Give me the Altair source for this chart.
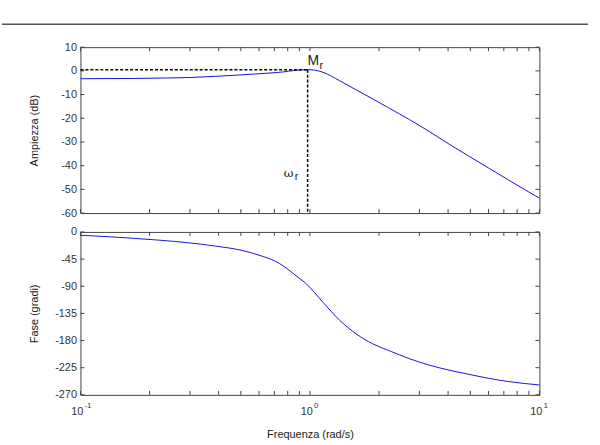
import altair as alt
import pandas as pd

# ---- data ----
mag_w = [0.1, 0.17, 0.24, 0.3, 0.388, 0.48, 0.578, 0.67, 0.755, 0.86, 0.98, 1.05, 1.14,
         1.35, 1.59, 1.94, 2.22, 2.71, 3.3, 4.04, 4.93, 6.01, 7.35, 8.6, 10.0]
mag_db = [-3.3, -3.2, -3.0, -2.8, -2.3, -1.8, -1.3, -0.9, -0.5, 0.2, 0.5, 0.3, -0.6,
          -4.2, -8.0, -12.6, -15.8, -20.5, -25.5, -30.9, -36.0, -41.0, -46.1, -50.0, -53.7]

ph_w = [0.1, 0.134, 0.169, 0.22, 0.288, 0.388, 0.506, 0.617, 0.706, 0.77, 0.834, 0.9, 0.968,
        1.05, 1.14, 1.24, 1.35, 1.47, 1.59, 1.72, 1.88, 2.22, 2.71, 3.31, 4.04, 4.93, 6.01,
        7.35, 10.0]
ph_deg = [-5.5, -8.0, -10.5, -13.6, -17.5, -23.5, -30.6, -40.0, -48.5, -57.0, -67.0, -77.0,
          -86.5, -101.0, -116.7, -132.0, -146.8, -159.0, -169.0, -177.5, -185.5, -197.0,
          -210.0, -220.7, -229.0, -236.0, -242.6, -248.0, -253.6]

x_ticks = [0.1, 0.2, 0.3, 0.4, 0.5, 0.6, 0.7, 0.8, 0.9, 1, 2, 3, 4, 5, 6, 7, 8, 9, 10]
mag_ticks = [10, 0, -10, -20, -30, -40, -50, -60]
ph_ticks = [0, -45, -90, -135, -180, -225, -270]
decades = [0.1, 1, 10]
decade_exp = ["-1", "0", "1"]

w_r = 0.977
M_r = 0.5

# ---- style ----
W, H1, H2 = 462, 167, 164
BLUE = "#1515e0"
FRAME = "#444444"
FONT = "Liberation Sans"
TL = 4  # inward tick length
LBL = "'' + datum.value"

x_scale = alt.Scale(type="log", domain=[0.1, 10], nice=False)
y1_scale = alt.Scale(domain=[-60, 10], nice=False, zero=False)
y2_scale = alt.Scale(domain=[-270, 0], nice=False, zero=False)

y1_axis = alt.Axis(values=mag_ticks, title="Ampiezza (dB)", ticks=False, domain=False,
                   grid=False, labelPadding=4, labelExpr=LBL, titleX=-46, titleY=H1 / 2,
                   titleBaseline="middle")
y2_axis = alt.Axis(values=ph_ticks, title="Fase (gradi)", ticks=False, domain=False,
                   grid=False, labelPadding=4, labelExpr=LBL, titleX=-46, titleY=H2 / 2,
                   titleBaseline="middle")
x2_axis = alt.Axis(title="Frequenza (rad/s)", labels=False, ticks=False, domain=False,
                   grid=False, titleY=40, titleBaseline="middle")

mag_df = pd.DataFrame({"w": mag_w, "v": mag_db})
ph_df = pd.DataFrame({"w": ph_w, "v": ph_deg})
xt_df = pd.DataFrame({"w": x_ticks})
yt1_df = pd.DataFrame({"v": mag_ticks})
yt2_df = pd.DataFrame({"v": ph_ticks})
dec_df = pd.DataFrame({"w": decades, "e": decade_exp})
one = pd.DataFrame({"a": [0]})
mr_df = pd.DataFrame({"w": [0.1], "w2": [w_r], "v": [M_r]})
wr_df = pd.DataFrame({"w": [w_r], "v": [M_r], "vb": [-60], "vl": [-45]})


def X(axis):
    return alt.X("w:Q", scale=x_scale, axis=axis)


def tick_layers(y_scale, y_axis, x_axis, yt_df, height):
    top = alt.Chart(xt_df).mark_rule(color=FRAME, strokeWidth=1).encode(
        x=X(x_axis), y=alt.value(0), y2=alt.value(TL))
    bot = alt.Chart(xt_df).mark_rule(color=FRAME, strokeWidth=1).encode(
        x=X(x_axis), y=alt.value(height), y2=alt.value(height - TL))
    left = alt.Chart(yt_df).mark_rule(color=FRAME, strokeWidth=1).encode(
        y=alt.Y("v:Q", scale=y_scale, axis=y_axis), x=alt.value(0), x2=alt.value(TL))
    right = alt.Chart(yt_df).mark_rule(color=FRAME, strokeWidth=1).encode(
        y=alt.Y("v:Q", scale=y_scale, axis=y_axis), x=alt.value(W - TL), x2=alt.value(W))
    return [top, bot, left, right]


# ---- top panel: magnitude ----
Y1 = alt.Y("v:Q", scale=y1_scale, axis=y1_axis)

mag_line = alt.Chart(mag_df).mark_line(color=BLUE, strokeWidth=1, interpolate="monotone").encode(
    x=X(None), y=Y1)

dash_h = alt.Chart(mr_df).mark_rule(color="black", strokeWidth=1.5, strokeDash=[3, 2]).encode(
    x=X(None), x2="w2:Q", y=Y1)
dash_v = alt.Chart(wr_df).mark_rule(color="black", strokeWidth=1.5, strokeDash=[3, 2]).encode(
    x=X(None), y=Y1, y2="vb:Q")

txt_M = alt.Chart(wr_df).mark_text(text="M", align="left", baseline="alphabetic", fontSize=14,
                                   font=FONT, color="#222", dx=0, dy=-5).encode(x=X(None), y=Y1)
txt_Mr = alt.Chart(wr_df).mark_text(text="r", align="left", baseline="alphabetic", fontSize=11,
                                    font=FONT, color="#222", dx=12, dy=-1).encode(x=X(None), y=Y1)
Y1l = alt.Y("vl:Q", scale=y1_scale, axis=y1_axis)
txt_w = alt.Chart(wr_df).mark_text(text="ω", align="left", baseline="alphabetic", fontSize=12,
                                   font="DejaVu Serif", color="#222", dx=-24, dy=-1).encode(
    x=X(None), y=Y1l)
txt_wr = alt.Chart(wr_df).mark_text(text="r", align="left", baseline="alphabetic", fontSize=11,
                                    font=FONT, color="#222", dx=-13, dy=3).encode(
    x=X(None), y=Y1l)

top_line = alt.Chart(one).mark_rule(color="#555555", strokeWidth=1.5).encode(
    x=alt.value(-79), x2=alt.value(511), y=alt.value(-23))

top = alt.layer(
    mag_line, *tick_layers(y1_scale, y1_axis, None, yt1_df, H1), dash_h, dash_v,
    txt_M, txt_Mr, txt_w, txt_wr, top_line
).properties(width=W, height=H1)

# ---- bottom panel: phase ----
Y2 = alt.Y("v:Q", scale=y2_scale, axis=y2_axis)
ph_line = alt.Chart(ph_df).mark_line(color=BLUE, strokeWidth=1, interpolate="monotone").encode(
    x=X(x2_axis), y=Y2)

lab_base = alt.Chart(dec_df).mark_text(text="10", align="right", baseline="alphabetic",
                                       fontSize=11, font=FONT, color="#333", dx=3).encode(
    x=X(x2_axis), y=alt.value(H2 + 20))
lab_exp = alt.Chart(dec_df).mark_text(align="left", baseline="alphabetic",
                                      fontSize=8, font=FONT, color="#333", dx=4).encode(
    x=X(x2_axis), y=alt.value(H2 + 13), text="e:N")

bottom = alt.layer(
    ph_line, *tick_layers(y2_scale, y2_axis, x2_axis, yt2_df, H2), lab_base, lab_exp
).properties(width=W, height=H2)

chart = alt.vconcat(top, bottom, spacing=19, bounds="flush").properties(
    padding={"left": 0, "top": 21, "right": 10, "bottom": 4},
    background="white",
).configure_view(stroke=FRAME, strokeWidth=1).configure_axis(
    labelFont=FONT, labelFontSize=11, labelColor="#333",
    titleFont=FONT, titleFontSize=11, titleColor="#222", titleFontWeight="normal",
)

chart.save("out.html", embed_options={"renderer": "svg", "actions": False})
